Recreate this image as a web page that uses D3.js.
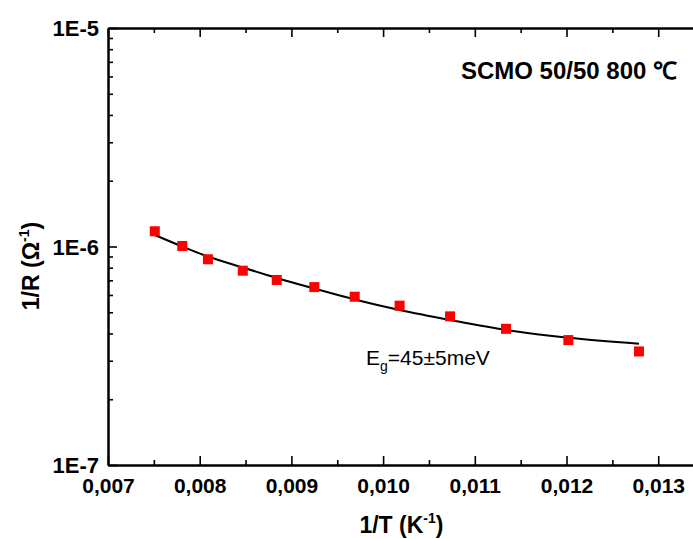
<!DOCTYPE html>
<html><head><meta charset="utf-8">
<script src="https://cdn.jsdelivr.net/npm/d3@7"></script>
<style>body{margin:0;background:#fff;overflow:hidden} svg{display:block}</style>
</head><body><svg id="c" width="693" height="539"></svg>
<script>
// data
const invT = [0.00751,0.00781,0.00809,0.00847,0.00884,0.00925,0.00969,0.01018,0.01073,0.01134,0.01202,0.01279];
const invR = [1.174e-6,1.005e-6,0.874e-6,0.775e-6,0.703e-6,0.652e-6,0.589e-6,0.536e-6,0.479e-6,0.420e-6,0.373e-6,0.331e-6];
const fitT = [0.00751,0.00781,0.00809,0.00847,0.00884,0.00925,0.00969,0.01018,0.01073,0.01134,0.01202,0.01279];
const fitR = [1.129e-6,1.000e-6,0.900e-6,0.801e-6,0.718e-6,0.642e-6,0.572e-6,0.512e-6,0.461e-6,0.415e-6,0.382e-6,0.359e-6];
const xTicks = [0.007,0.008,0.009,0.010,0.011,0.012,0.013];
const xTickLabels = ["0,007","0,008","0,009","0,010","0,011","0,012","0,013"];
const xMinor = [0.0075,0.0085,0.0095,0.0105,0.0115,0.0125];
const yTicks = [1e-7,1e-6,1e-5];
const yTickLabels = ["1E-7","1E-6","1E-5"];
const yMinorMult = [2,3,4,5,6,7,8,9];
const title = "SCMO 50/50 800 \u2103";

const svg = d3.select("#c");
const font = "'Liberation Sans', Arial, sans-serif";
const L = 108, T = 28, B = 465, R = 694.9;
const x = d3.scaleLinear().domain([0.007, 0.0134]).range([L, R]);
const y = d3.scaleLog().domain([1e-7, 1e-5]).range([B, T]);

const yMinor = [];
[1e-7, 1e-6].forEach(d => yMinorMult.forEach(m => yMinor.push(d * m)));

function styleAxis(g) {
  g.select(".domain").attr("stroke", "#000").attr("stroke-width", 2);
  g.selectAll(".tick line").attr("stroke", "#000").attr("stroke-width", 1.6);
  g.selectAll("text").attr("font-family", font).attr("font-weight", "bold")
    .attr("font-size", 21).attr("fill", "#000");
}

// bottom axis
const bx = svg.append("g").attr("transform", `translate(0,${B})`)
  .call(d3.axisBottom(x).tickValues(xTicks).tickSizeInner(-9).tickSizeOuter(0)
    .tickPadding(13).tickFormat((d, i) => xTickLabels[i]));
styleAxis(bx);
bx.selectAll("text").attr("y", 13);
const bxm = svg.append("g").attr("transform", `translate(0,${B})`)
  .call(d3.axisBottom(x).tickValues(xMinor).tickSizeInner(-5).tickSizeOuter(0).tickFormat(""));
styleAxis(bxm);

// top axis
const tx = svg.append("g").attr("transform", `translate(0,${T})`)
  .call(d3.axisTop(x).tickValues(xTicks).tickSizeInner(-9).tickSizeOuter(0).tickFormat(""));
styleAxis(tx);
const txm = svg.append("g").attr("transform", `translate(0,${T})`)
  .call(d3.axisTop(x).tickValues(xMinor).tickSizeInner(-5).tickSizeOuter(0).tickFormat(""));
styleAxis(txm);

// left axis
const ly = svg.append("g").attr("transform", `translate(${L},0)`)
  .call(d3.axisLeft(y).tickValues(yTicks).tickSizeInner(-9).tickSizeOuter(0)
    .tickPadding(18).tickFormat((d, i) => yTickLabels[i]));
styleAxis(ly);
ly.selectAll("text").attr("x", -9).attr("dy", "0.36em").attr("font-size", 22);
const lym = svg.append("g").attr("transform", `translate(${L},0)`)
  .call(d3.axisLeft(y).tickValues(yMinor).tickSizeInner(-5).tickSizeOuter(0).tickFormat(""));
styleAxis(lym);

// fit line
const fit = fitT.map((t, i) => [t, fitR[i]]);
svg.append("path").datum(fit)
  .attr("fill", "none").attr("stroke", "#000").attr("stroke-width", 2)
  .attr("d", d3.line().x(d => x(d[0])).y(d => y(d[1])).curve(d3.curveCatmullRom.alpha(0.5)));

// markers
const s = 10;
svg.append("g").selectAll("rect").data(invT.map((t, i) => [t, invR[i]])).join("rect")
  .attr("x", d => x(d[0]) - s / 2).attr("y", d => y(d[1]) - s / 2)
  .attr("width", s).attr("height", s).attr("fill", "#ff0000");

// annotation
const ann = svg.append("text").attr("x", 366).attr("y", 365)
  .attr("font-family", font).attr("font-size", 21).attr("fill", "#000");
ann.append("tspan").text("E");
ann.append("tspan").attr("font-size", 14).attr("dy", 6).text("g");
ann.append("tspan").attr("dy", -6).text("=45\u00b15meV");

// title
svg.append("text").attr("x", 677).attr("y", 79).attr("text-anchor", "end")
  .attr("font-family", font).attr("font-weight", "bold").attr("font-size", 24)
  .attr("fill", "#000").text(title);

// axis titles
const xt = svg.append("text").attr("x", (L + R) / 2).attr("y", 533).attr("text-anchor", "middle")
  .attr("font-family", font).attr("font-weight", "bold").attr("font-size", 23).attr("fill", "#000");
xt.append("tspan").text("1/T (K");
xt.append("tspan").attr("font-size", 14).attr("dy", -10).text("-1");
xt.append("tspan").attr("dy", 10).text(")");

const yt = svg.append("text").attr("transform", "translate(39,266) rotate(-90)").attr("text-anchor", "middle")
  .attr("font-family", font).attr("font-weight", "bold").attr("font-size", 23).attr("fill", "#000");
yt.append("tspan").text("1/R (\u03a9");
yt.append("tspan").attr("font-size", 14).attr("dy", -10).text("-1");
yt.append("tspan").attr("dy", 10).text(")");
</script></body></html>
